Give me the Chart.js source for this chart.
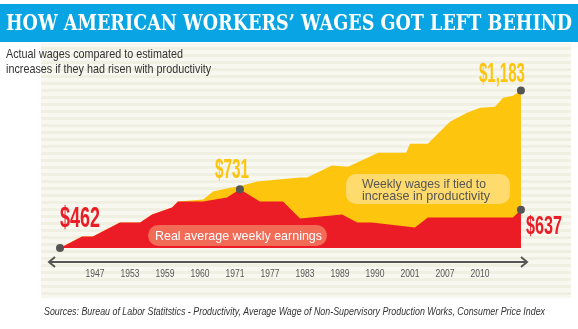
<!DOCTYPE html>
<html lang="en">
<head>
  <meta charset="UTF-8">
  <title>How American workers' wages got left behind</title>
  <script src="https://cdn.jsdelivr.net/npm/chart.js"></script>
  <style>
    html, body {
      margin: 0;
      padding: 0;
      background: #fff;
    }
    #wrap {
      position: relative;
      width: 578px;
      height: 329px;
      overflow: hidden;
    }
    #bar {
      position: absolute;
      left: 0; top: 4px;
      width: 578px; height: 38px;
      background: #08a4e3;
    }
    #panel {
      position: absolute;
      left: 41px; top: 43px;
      width: 530px; height: 255px;
      background: repeating-linear-gradient(#f8f8f0 0 4px, #efefe2 4px 7px);
    }
    canvas {
      position: absolute;
      left: 0; top: 0;
    }
  </style>
</head>
<body>
  <div id="wrap">
    <div id="bar"></div>
    <div id="panel"></div>
    <canvas id="chart" width="578" height="329"></canvas>
  </div>

  <script>
    // x positions are in "tick slots": slot 1 = first year label, slot 12 = last
    const yearLabels = ["1947", "1953", "1959", "1960", "1971", "1977", "1983", "1989", "1990", "2001", "2007", "2010"];

    // real average weekly earnings (red)
    const realX = [0, 0.63, 0.94, 1.71, 2.29, 2.63, 3.2, 3.37, 4.09, 4.77, 5.14, 5.71, 6.37, 6.86, 8.06, 8.49, 8.91, 10.14, 10.51, 12.94, 13.17];
    const realWage = [462, 515, 515, 579, 579, 615, 647, 675, 675, 693, 731, 675, 675, 597, 615, 579, 579, 556, 602, 602, 637];

    // weekly wages if tied to productivity (yellow)
    const prodX = [0, 0.63, 0.94, 1.71, 2.29, 2.63, 3.2, 3.37, 4.09, 4.37, 4.86, 5.14, 5.63, 6.86, 7.06, 7.77, 8.23, 9.09, 9.89, 10.0, 10.51, 11.14, 11.63, 12.0, 12.43, 12.66, 12.94, 13.17];
    const prodWage = [462, 515, 515, 579, 579, 615, 647, 675, 684, 720, 738, 745, 766, 784, 784, 839, 834, 898, 898, 939, 939, 1040, 1081, 1104, 1108, 1149, 1158, 1183];

    // which points get a dot + dollar label
    const realMarked = [0, 10, realWage.length - 1];
    const prodMarked = [prodWage.length - 1];

    const RED = "#ec1c26";
    const YELLOW = "#fdc50d";

    function pts(xs, ys) {
      return xs.map((x, i) => ({ x: x, y: ys[i] }));
    }

    function money(v) {
      return "$" + v.toLocaleString("en-US");
    }

    // fake a narrow face: squeeze the text to a share of its natural width
    function narrow(ctx, txt, x, y, ratio) {
      const w = ctx.measureText(txt).width;
      ctx.fillText(txt, x, y, w * ratio);
    }

    function pill(ctx, x, y, w, h, r, color) {
      ctx.beginPath();
      ctx.moveTo(x + r, y);
      ctx.arcTo(x + w, y, x + w, y + h, r);
      ctx.arcTo(x + w, y + h, x, y + h, r);
      ctx.arcTo(x, y + h, x, y, r);
      ctx.arcTo(x, y, x + w, y, r);
      ctx.closePath();
      ctx.fillStyle = color;
      ctx.fill();
    }

    const decor = {
      id: "decor",
      afterDatasetsDraw(chart) {
        const ctx = chart.ctx;
        const xs = chart.scales.x;
        const ys = chart.scales.y;
        ctx.save();

        // title + subtitle
        ctx.fillStyle = "#fff";
        ctx.textAlign = "left";
        ctx.textBaseline = "alphabetic";
        ctx.font = 'bold 22px "DejaVu Serif"';
        ctx.fillText("HOW AMERICAN WORKERS\u2019 WAGES GOT LEFT BEHIND", 6, 30, 566);

        ctx.fillStyle = "#333";
        ctx.font = '13px "Liberation Sans"';
        ctx.fillText("Actual wages compared to estimated", 6, 58, 177);
        narrow(ctx, "increases if they had risen with productivity", 6, 73, 177 / ctx.measureText("Actual wages compared to estimated").width);

        // annotation pills
        pill(ctx, 148, 225, 179, 21, 10.5, "#f26b57");
        ctx.fillStyle = "#fff";
        ctx.font = '13px "Liberation Sans"';
        ctx.textBaseline = "middle";
        ctx.fillText("Real average weekly earnings", 155, 236, 167);

        pill(ctx, 346, 174, 164, 30, 10, "#fedb6c");
        ctx.fillStyle = "#555";
        ctx.fillText("Weekly wages if tied to", 362, 184, 124);
        ctx.fillText("increase in productivity", 362, 196, 128);

        // axis with arrows
        const ay = 262;
        ctx.strokeStyle = "#555";
        ctx.lineWidth = 2;
        ctx.beginPath();
        ctx.moveTo(49, ay);
        ctx.lineTo(527, ay);
        ctx.stroke();
        ctx.beginPath();
        ctx.moveTo(55, ay - 5); ctx.lineTo(49, ay); ctx.lineTo(55, ay + 5);
        ctx.moveTo(521, ay - 5); ctx.lineTo(527, ay); ctx.lineTo(521, ay + 5);
        ctx.stroke();

        ctx.fillStyle = "#555";
        ctx.font = '11px "Liberation Sans"';
        ctx.textAlign = "center";
        ctx.textBaseline = "alphabetic";
        yearLabels.forEach((lab, i) => {
          ctx.fillText(lab, xs.getPixelForValue(i + 1), 277, 19);
        });

        // source line
        ctx.fillStyle = "#333";
        ctx.textAlign = "left";
        ctx.font = 'italic 11px "Liberation Sans"';
        ctx.fillText("Sources: Bureau of Labor Statitstics - Productivity, Average Wage of Non-Supervisory Production Works, Consumer Price Index", 44, 315, 501);

        // dots and dollar labels
        const dot = (px, py) => {
          ctx.beginPath();
          ctx.arc(px, py, 4, 0, Math.PI * 2);
          ctx.fillStyle = "#555";
          ctx.fill();
        };
        const big = (txt, px, py, align, color, size, w) => {
          ctx.font = 'bold ' + size + 'px "Liberation Sans"';
          ctx.textAlign = align;
          ctx.fillStyle = color;
          ctx.fillText(txt, px, py, w);
        };

        const r0 = realMarked[0], rPeak = realMarked[1], rEnd = realMarked[2];
        const pEnd = prodMarked[0];
        let px, py;

        px = xs.getPixelForValue(realX[r0]); py = ys.getPixelForValue(realWage[r0]);
        dot(px, py);
        big(money(realWage[r0]), px, py - 21, "left", RED, 29, 40);

        px = xs.getPixelForValue(realX[rPeak]); py = ys.getPixelForValue(realWage[rPeak]);
        dot(px, py);
        big(money(realWage[rPeak]), px - 8, py - 11, "center", YELLOW, 28, 34);

        px = xs.getPixelForValue(realX[rEnd]); py = ys.getPixelForValue(realWage[rEnd]);
        dot(px, py);
        big(money(realWage[rEnd]), px + 5, py + 24, "left", RED, 26, 36);

        px = xs.getPixelForValue(prodX[pEnd]); py = ys.getPixelForValue(prodWage[pEnd]);
        dot(px, py);
        big(money(prodWage[pEnd]), px + 4, py - 8, "right", YELLOW, 28, 46);

        ctx.restore();
      }
    };

    new Chart(document.getElementById("chart"), {
      type: "line",
      data: {
        datasets: [
          {
            label: "Real average weekly earnings",
            data: pts(realX, realWage),
            backgroundColor: RED,
            borderWidth: 0,
            pointRadius: 0,
            tension: 0,
            fill: "start"
          },
          {
            label: "Weekly wages if tied to increase in productivity",
            data: pts(prodX, prodWage),
            backgroundColor: YELLOW,
            borderWidth: 0,
            pointRadius: 0,
            tension: 0,
            fill: "start"
          }
        ]
      },
      options: {
        responsive: false,
        animation: false,
        devicePixelRatio: 1,
        layout: { padding: { left: 46, right: 42, top: 48, bottom: 81 } },
        scales: {
          x: { type: "linear", min: -0.4, max: 13.6, display: false },
          y: { min: 462, max: 1377, display: false }
        },
        plugins: {
          legend: { display: false },
          tooltip: { enabled: false }
        }
      },
      plugins: [decor]
    });
  </script>
</body>
</html>
